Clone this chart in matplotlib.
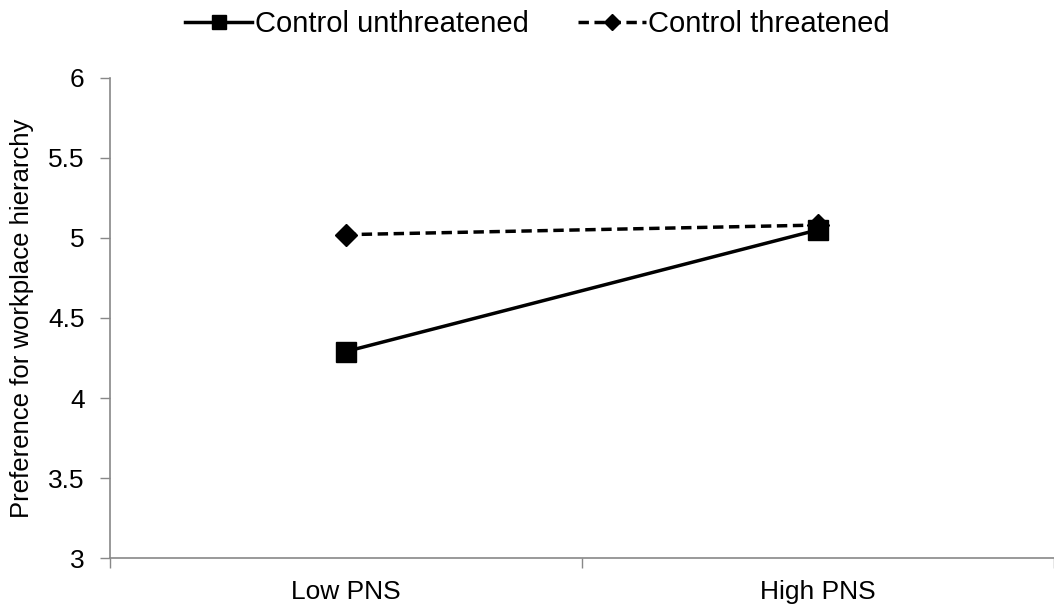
import matplotlib
matplotlib.use('Agg')
import matplotlib.pyplot as plt
import numpy as np

plt.rcParams['font.family'] = ['Liberation Sans', 'DejaVu Sans']

categories = ['Low PNS', 'High PNS']
unthreatened = [4.29, 5.05]
threatened = [5.02, 5.08]
yticks = [3, 3.5, 4, 4.5, 5, 5.5, 6]
ytick_labels = ['3', '3.5', '4', '4.5', '5', '5.5', '6']

fig = plt.figure(figsize=(10.54, 6.12), dpi=100)
ax = fig.add_axes([0.104, 0.088, 0.896, 0.785])

x = np.arange(len(categories))
ax.plot(x, unthreatened, color='black', linewidth=2.5, marker='s',
        markersize=14, label='Control unthreatened')
ax.plot(x, threatened, color='black', linewidth=2.5, linestyle=(0, (3, 1.6)),
        marker='D', markersize=11, label='Control threatened')

ax.set_xlim(-0.5, 1.5)
ax.set_ylim(3, 6)
ax.set_yticks(yticks)
ax.set_yticklabels(ytick_labels, fontsize=19)
ax.set_xticks(x)
ax.set_xticklabels(categories, fontsize=19)
ax.set_xticks([-0.5, 0.5, 1.5], minor=True)
ax.tick_params(axis='x', which='major', length=0, pad=16)
ax.tick_params(axis='x', which='minor', length=7, color='#888888', width=1)
ax.tick_params(axis='y', length=7, color='#888888', width=1, pad=11)

for s in ['top', 'right']:
    ax.spines[s].set_visible(False)
for s in ['left', 'bottom']:
    ax.spines[s].set_color('#888888')
    ax.spines[s].set_linewidth(1.2)

ax.set_ylabel('Preference for workplace hierarchy', fontsize=18.5, labelpad=10)

leg = fig.legend(loc='upper center', bbox_to_anchor=(0.51, 1.027), ncol=2,
                 frameon=False, fontsize=21, handlelength=2.3,
                 handletextpad=0.1, columnspacing=1.7, markerscale=0.75)

fig.savefig('out.png', dpi=100)
